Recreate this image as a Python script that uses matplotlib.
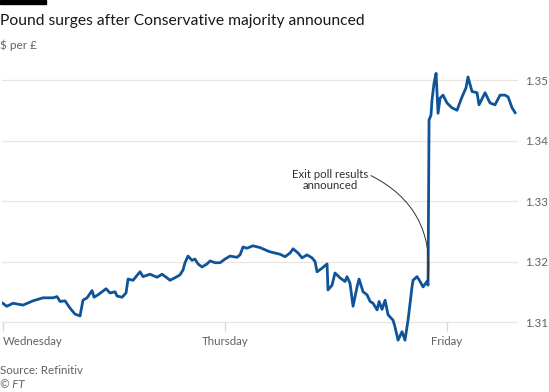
import numpy as np
import matplotlib
matplotlib.use("Agg")
import matplotlib.pyplot as plt
from matplotlib.patches import Rectangle

plt.rcParams["font.family"] = ["Lato", "DejaVu Sans"]

# hours since Wednesday 00:00 (London) and GBP/USD rate
hours = [0.0, 0.43, 1.11, 2.19, 3.27, 4.35, 5.43, 5.87, 6.19, 6.73,
         7.27, 7.81, 8.35, 8.67, 9.11, 9.65, 9.86, 10.30, 11.16, 11.59,
         12.13, 12.35, 12.89, 13.32, 13.54, 14.08, 14.83, 15.16, 15.91, 16.67,
         17.21, 17.75, 18.07, 18.83, 19.15, 19.48, 19.69, 20.02, 20.45, 20.77,
         21.10, 21.53, 22.07, 22.40, 22.94, 23.48, 24.01, 24.56, 25.31, 25.64,
         25.96, 26.39, 27.04, 27.80, 28.55, 28.88, 29.96, 30.50, 31.04, 31.37,
         31.91, 32.34, 32.88, 33.42, 33.74, 33.96, 34.50, 35.04, 35.14, 35.58,
         35.90, 36.44, 36.98, 37.20, 37.52, 37.85, 38.28, 38.50, 38.93, 39.36,
         39.69, 40.01, 40.45, 40.66, 40.98, 41.31, 41.63, 42.17, 42.38, 42.71,
         43.14, 43.46, 43.79, 44.22, 44.33, 44.76, 45.09, 45.41, 45.84, 45.95,
         46.06, 46.27, 46.38, 46.60, 46.82, 47.03, 47.25, 47.57, 48.00, 48.54,
         49.08, 49.62, 50.05, 50.27, 50.70, 51.24, 51.46, 52.11, 52.65, 53.19,
         53.73, 54.27, 54.60, 55.03, 55.36]
rate = [1.3131, 1.3126, 1.3131, 1.3128, 1.3135, 1.3140, 1.3140, 1.3142, 1.3134, 1.3135,
        1.3123, 1.3113, 1.3110, 1.3136, 1.3140, 1.3152, 1.3141, 1.3145, 1.3155, 1.3148,
        1.3150, 1.3143, 1.3141, 1.3148, 1.3171, 1.3169, 1.3183, 1.3175, 1.3179, 1.3174,
        1.3179, 1.3173, 1.3169, 1.3175, 1.3178, 1.3186, 1.3198, 1.3209, 1.3202, 1.3204,
        1.3196, 1.3191, 1.3196, 1.3201, 1.3198, 1.3198, 1.3204, 1.3209, 1.3207, 1.3211,
        1.3224, 1.3222, 1.3226, 1.3223, 1.3218, 1.3216, 1.3212, 1.3208, 1.3214, 1.3221,
        1.3214, 1.3206, 1.3211, 1.3206, 1.3200, 1.3183, 1.3189, 1.3196, 1.3153, 1.3161,
        1.3181, 1.3173, 1.3167, 1.3175, 1.3164, 1.3126, 1.3158, 1.3171, 1.3150, 1.3145,
        1.3134, 1.3131, 1.3120, 1.3134, 1.3121, 1.3136, 1.3112, 1.3103, 1.3092, 1.3070,
        1.3084, 1.3070, 1.3103, 1.3158, 1.3169, 1.3175, 1.3167, 1.3158, 1.3167, 1.3161,
        1.3434, 1.3442, 1.3467, 1.3495, 1.3511, 1.3445, 1.3470, 1.3475, 1.3462, 1.3454,
        1.3450, 1.3472, 1.3487, 1.3505, 1.3481, 1.3479, 1.3459, 1.3479, 1.3462, 1.3459,
        1.3475, 1.3475, 1.3472, 1.3454, 1.3446]

day_ticks = [0, 24, 48]
day_labels = ["Wednesday", "Thursday", "Friday"]
y_ticks = [1.31, 1.32, 1.33, 1.34, 1.35]

exit_poll = (45.95, 1.3169)

grey = "#66605c"
grid = "#ece5dd"
blue = "#0f5499"

fig = plt.figure(figsize=(5.49, 3.92), dpi=100)
fig.patch.set_facecolor("white")
ax = fig.add_axes([2 / 549, 1 - 343.2 / 392, 516 / 549, (343.2 - 67.9) / 392])
ax.set_xlim(-0.08, 55.67)
ax.set_ylim(1.3065, 1.352)

for s in ax.spines.values():
    s.set_visible(False)
ax.set_xticks([])
ax.yaxis.tick_right()
ax.set_yticks(y_ticks)
ax.set_yticklabels([f"{v:.2f}" for v in y_ticks])
ax.tick_params(axis="y", length=0, pad=5, labelsize=8.3, labelcolor=grey)
for v in y_ticks:
    ax.axhline(v, color=grid, lw=0.9, zorder=0)

# day ticks hanging below the baseline
ax.vlines(day_ticks, 1.31 - 0.0015, 1.31, color="#ddd5cc", lw=0.9, clip_on=False)
for i, (d, lab) in enumerate(zip(day_ticks, day_labels)):
    ax.text(d, 1.31 - 0.0033, lab, ha="left" if i == 0 else "center", va="center",
            fontsize=8.3, color=grey, clip_on=False)

ax.plot(hours, rate, color=blue, lw=2.0, solid_joinstyle="round", zorder=3)

ax.annotate("Exit poll results\nannounced", xy=exit_poll, xytext=(35.36, 1.3335),
            ha="center", va="center", fontsize=8.2, color="#33302e", linespacing=1.05,
            arrowprops=dict(arrowstyle="-", color="#33302e", lw=0.7,
                            shrinkA=0, shrinkB=0,
                            connectionstyle="arc3,rad=-0.35",
                            relpos=(1.0, 0.75)))

fig.add_artist(Rectangle((0, 1 - 3.5 / 392), 46 / 549, 3.5 / 392,
                         transform=fig.transFigure, color="black"))
fig.text(0, 1 - 25 / 392, "Pound surges after Conservative majority announced",
         fontsize=11.25, color="#1a1817", va="baseline", ha="left")
fig.text(0, 1 - 45 / 392, "$ per £", fontsize=8.5, color=grey, va="center", ha="left")
fig.text(0, 1 - 371 / 392, "Source: Refinitiv", fontsize=8.3, color=grey, va="center")
fig.text(0, 1 - 385 / 392, "© FT", fontsize=8.3, color=grey, va="center", style="italic")

fig.savefig("out.png", dpi=100, facecolor="white")
